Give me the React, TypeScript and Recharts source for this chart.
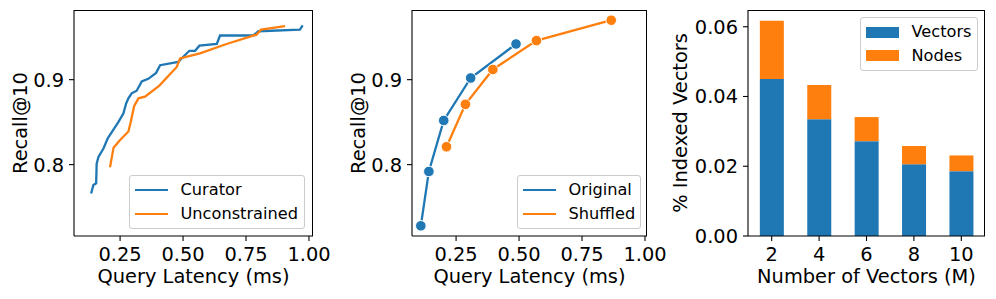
import React from 'react';
import { LineChart, Line, BarChart, Bar, XAxis, YAxis, Legend } from 'recharts';

// panel 1: latency / recall sweep
const curatorLatency = [0.135, 0.144, 0.155, 0.157, 0.164, 0.184, 0.201, 0.221, 0.243, 0.263, 0.274, 0.283, 0.296, 0.316, 0.336, 0.362, 0.393, 0.409, 0.481, 0.501, 0.525, 0.548, 0.565, 0.634, 0.647, 0.779, 0.799, 0.964, 0.975];
const curatorRecall = [0.766, 0.776, 0.778, 0.801, 0.809, 0.819, 0.831, 0.840, 0.850, 0.860, 0.872, 0.878, 0.884, 0.887, 0.898, 0.901, 0.908, 0.917, 0.921, 0.927, 0.934, 0.934, 0.940, 0.942, 0.952, 0.952, 0.957, 0.959, 0.964];
const unconstrainedLatency = [0.210, 0.224, 0.250, 0.283, 0.292, 0.306, 0.323, 0.349, 0.406, 0.475, 0.488, 0.567, 0.673, 0.792, 0.810, 0.905];
const unconstrainedRecall = [0.797, 0.820, 0.829, 0.839, 0.850, 0.869, 0.878, 0.880, 0.893, 0.915, 0.925, 0.931, 0.942, 0.953, 0.959, 0.963];

// panel 2: original vs shuffled insertion order
const originalLatency = [0.110, 0.142, 0.201, 0.308, 0.488];
const originalRecall = [0.728, 0.792, 0.852, 0.902, 0.942];
const shuffledLatency = [0.212, 0.287, 0.396, 0.569, 0.866];
const shuffledRecall = [0.821, 0.871, 0.912, 0.946, 0.970];

// panel 3: index size
const numVectors = ['2', '4', '6', '8', '10'];
const vectorsShare = [0.0450, 0.0335, 0.0272, 0.0206, 0.0186];
const nodesShare = [0.0167, 0.0098, 0.0069, 0.0052, 0.0045];

const latencyTicks = [0.25, 0.5, 0.75, 1.0];
const recallTicks = [0.8, 0.9];
const shareTicks = [0, 0.02, 0.04, 0.06];

const BLUE = '#1f77b4';
const ORANGE = '#ff7f0e';
const FONT = '"DejaVu Sans", sans-serif';
const TICK = { fill: '#000', fontSize: 19.4, fontFamily: FONT };
const AX = { stroke: '#000', strokeWidth: 1.1 };
const RECALL_DOMAIN: [number, number] = [0.716, 0.982];

const zip = (xs: number[], ys: number[]) => xs.map((x, i) => ({ x, y: ys[i] }));

const curator = zip(curatorLatency, curatorRecall);
const unconstrained = zip(unconstrainedLatency, unconstrainedRecall);
const original = zip(originalLatency, originalRecall);
const shuffled = zip(shuffledLatency, shuffledRecall);
const bars = numVectors.map((n, i) => ({ n, vectors: vectorsShare[i], nodes: nodesShare[i] }));

type Item = { label: string; color: string; kind: 'line' | 'rect' };

function LegendBox({ items, width }: { items: Item[]; width: number }) {
  return (
    <div style={{
      width, boxSizing: 'border-box',
      border: '1px solid #cccccc', borderRadius: 3, background: 'rgba(255,255,255,0.8)',
      padding: '2.5px 5px', fontFamily: FONT, fontSize: 16.2, color: '#000',
    }}>
      {items.map(it => (
        <div key={it.label} style={{ height: 23.5, display: 'flex', alignItems: 'center', whiteSpace: 'nowrap' }}>
          <div style={{ flexShrink: 0, width: 33, height: it.kind === 'line' ? 2.3 : 11, background: it.color, marginRight: 12.5 }} />
          <span style={{ lineHeight: 1 }}>{it.label}</span>
        </div>
      ))}
    </div>
  );
}

function Title({ text, x, y, rotate }: { text: string; x: number; y: number; rotate?: boolean }) {
  return (
    <div style={{
      position: 'absolute', left: x, top: y, whiteSpace: 'nowrap',
      transform: `translate(-50%, -50%)${rotate ? ' rotate(-90deg)' : ''}`,
      fontFamily: FONT, fontSize: 19.4, lineHeight: 1, color: '#000',
    }}>{text}</div>
  );
}

// matplotlib draws all four spines; recharts gives left + bottom, these add top + right
function Frame({ left, right }: { left: number; right: number }) {
  return (
    <div style={{
      position: 'absolute', left, top: 10, width: right - left, height: 226, boxSizing: 'border-box',
      borderTop: '1.1px solid #000', borderRight: '1.1px solid #000', pointerEvents: 'none',
    }} />
  );
}

function LatencyChart({ left, width, ylw, right, xDomain, series, legend }: {
  left: number; width: number; ylw: number; right: number; xDomain: [number, number];
  series: { data: { x: number; y: number }[]; color: string; dots: boolean }[];
  legend: { items: Item[]; left: number; top: number; width: number };
}) {
  return (
    <div style={{ position: 'absolute', left, top: 0 }}>
      <LineChart width={width} height={299} margin={{ top: 10, right, bottom: 0, left: 0 }}>
        <XAxis type="number" dataKey="x" domain={xDomain} allowDataOverflow ticks={latencyTicks} interval={0}
          tickFormatter={(v: number) => v.toFixed(2)} tick={TICK} tickLine={AX} axisLine={AX} tickSize={5} tickMargin={6} height={63} />
        <YAxis type="number" dataKey="y" domain={RECALL_DOMAIN} allowDataOverflow ticks={recallTicks} interval={0}
          tickFormatter={(v: number) => v.toFixed(1)} tick={TICK} tickLine={AX} axisLine={AX} tickSize={5} tickMargin={5} width={ylw} />
        {series.map((s, i) => (
          <Line key={i} data={s.data} dataKey="y" type="linear" stroke={s.color} strokeWidth={2.3}
            dot={s.dots ? { r: 5.3, fill: s.color, stroke: '#fff', strokeWidth: 1 } : false}
            activeDot={false} isAnimationActive={false} />
        ))}
        <Legend layout="vertical" align="center" verticalAlign="middle"
          wrapperStyle={{ left: legend.left, top: legend.top, width: legend.width }}
          content={() => <LegendBox items={legend.items} width={legend.width} />} />
      </LineChart>
    </div>
  );
}

export default function App() {
  return (
    <div style={{ position: 'absolute', left: 0, top: 0, width: 996, height: 299, background: '#fff', overflow: 'hidden' }}>
      <LatencyChart left={0} width={330} ylw={74} right={17} xDomain={[0.067, 1.016]}
        series={[{ data: curator, color: BLUE, dots: false }, { data: unconstrained, color: ORANGE, dots: false }]}
        legend={{ left: 129, top: 175, width: 176, items: [
          { label: 'Curator', color: BLUE, kind: 'line' }, { label: 'Unconstrained', color: ORANGE, kind: 'line' }] }} />
      <LatencyChart left={340} width={340} ylw={72} right={33} xDomain={[0.075, 1.008]}
        series={[{ data: original, color: BLUE, dots: true }, { data: shuffled, color: ORANGE, dots: true }]}
        legend={{ left: 177, top: 175, width: 124, items: [
          { label: 'Original', color: BLUE, kind: 'line' }, { label: 'Shuffled', color: ORANGE, kind: 'line' }] }} />

      <div style={{ position: 'absolute', left: 660, top: 0 }}>
        <BarChart width={336} height={299} data={bars} margin={{ top: 10, right: 11, bottom: 0, left: 0 }} barCategoryGap="25%">
          <XAxis dataKey="n" tick={TICK} tickLine={AX} axisLine={AX} tickSize={5} tickMargin={6} height={63} interval={0} />
          <YAxis type="number" domain={[0, 0.0648]} allowDataOverflow ticks={shareTicks} interval={0}
            tickFormatter={(v: number) => v.toFixed(2)} tick={TICK} tickLine={AX} axisLine={AX} tickSize={5} tickMargin={5} width={88} />
          <Bar dataKey="vectors" stackId="s" fill={BLUE} isAnimationActive={false} />
          <Bar dataKey="nodes" stackId="s" fill={ORANGE} isAnimationActive={false} />
          <Legend layout="vertical" align="center" verticalAlign="middle"
            wrapperStyle={{ left: 200, top: 17, width: 118 }}
            content={() => <LegendBox width={118} items={[
              { label: 'Vectors', color: BLUE, kind: 'rect' }, { label: 'Nodes', color: ORANGE, kind: 'rect' }]} />} />
        </BarChart>
      </div>

      <Frame left={74} right={313} />
      <Frame left={412} right={647} />
      <Frame left={748} right={985} />

      <Title text="Recall@10" x={21} y={123} rotate />
      <Title text="Query Latency (ms)" x={193.5} y={277} />
      <Title text="Recall@10" x={359} y={123} rotate />
      <Title text="Query Latency (ms)" x={529.5} y={277} />
      <Title text="% Indexed Vectors" x={681} y={123} rotate />
      <Title text="Number of Vectors (M)" x={866.5} y={277} />
    </div>
  );
}
